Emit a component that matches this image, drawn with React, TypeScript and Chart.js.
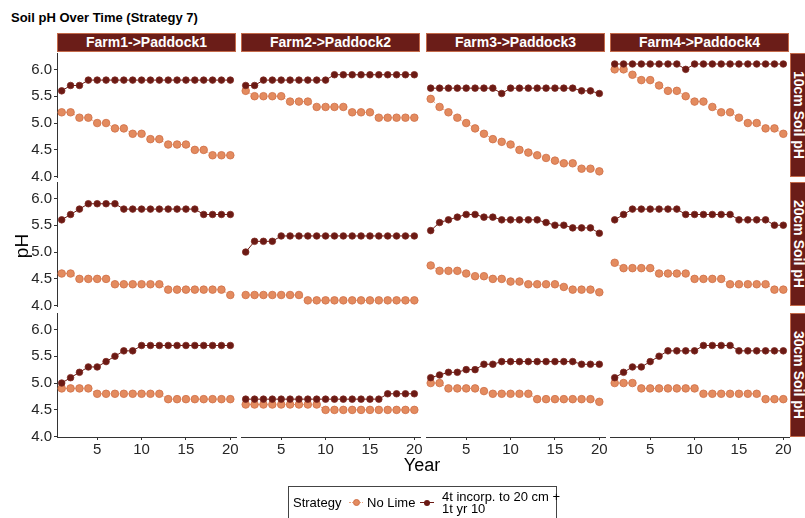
import React, { useEffect, useRef } from "react";
import { Chart, registerables } from "chart.js";
Chart.register(...registerables);

// ---------------- DATA ----------------
const years = [1, 2, 3, 4, 5, 6, 7, 8, 9, 10, 11, 12, 13, 14, 15, 16, 17, 18, 19, 20];
const farms = ["Farm1->Paddock1", "Farm2->Paddock2", "Farm3->Paddock3", "Farm4->Paddock4"];
const depths = ["10cm Soil pH", "20cm Soil pH", "30cm Soil pH"];
const yTickValues = [4.0, 4.5, 5.0, 5.5, 6.0];
const xTickValues = [5, 10, 15, 20];
const seriesNames = ["No Lime", "4t incorp. to 20 cm + 1t yr 10"];

// 10cm
const f1_10_noLime = [5.2, 5.2, 5.1, 5.1, 5.0, 5.0, 4.9, 4.9, 4.8, 4.8, 4.7, 4.7, 4.6, 4.6, 4.6, 4.5, 4.5, 4.4, 4.4, 4.4];
const f1_10_lime = [5.6, 5.7, 5.7, 5.8, 5.8, 5.8, 5.8, 5.8, 5.8, 5.8, 5.8, 5.8, 5.8, 5.8, 5.8, 5.8, 5.8, 5.8, 5.8, 5.8];
const f2_10_noLime = [5.6, 5.5, 5.5, 5.5, 5.5, 5.4, 5.4, 5.4, 5.3, 5.3, 5.3, 5.3, 5.2, 5.2, 5.2, 5.1, 5.1, 5.1, 5.1, 5.1];
const f2_10_lime = [5.7, 5.7, 5.8, 5.8, 5.8, 5.8, 5.8, 5.8, 5.8, 5.8, 5.9, 5.9, 5.9, 5.9, 5.9, 5.9, 5.9, 5.9, 5.9, 5.9];
const f3_10_noLime = [5.45, 5.3, 5.2, 5.1, 5.0, 4.9, 4.8, 4.7, 4.65, 4.6, 4.5, 4.45, 4.4, 4.35, 4.3, 4.25, 4.25, 4.15, 4.15, 4.1];
const f3_10_lime = [5.65, 5.65, 5.65, 5.65, 5.65, 5.65, 5.65, 5.65, 5.55, 5.65, 5.65, 5.65, 5.65, 5.65, 5.65, 5.65, 5.65, 5.6, 5.6, 5.55];
const f4_10_noLime = [6.0, 6.0, 5.9, 5.8, 5.8, 5.7, 5.6, 5.6, 5.5, 5.4, 5.4, 5.3, 5.2, 5.2, 5.1, 5.0, 5.0, 4.9, 4.9, 4.8];
const f4_10_lime = [6.1, 6.1, 6.1, 6.1, 6.1, 6.1, 6.1, 6.1, 6.0, 6.1, 6.1, 6.1, 6.1, 6.1, 6.1, 6.1, 6.1, 6.1, 6.1, 6.1];
// 20cm
const f1_20_noLime = [4.6, 4.6, 4.5, 4.5, 4.5, 4.5, 4.4, 4.4, 4.4, 4.4, 4.4, 4.4, 4.3, 4.3, 4.3, 4.3, 4.3, 4.3, 4.3, 4.2];
const f1_20_lime = [5.6, 5.7, 5.8, 5.9, 5.9, 5.9, 5.9, 5.8, 5.8, 5.8, 5.8, 5.8, 5.8, 5.8, 5.8, 5.8, 5.7, 5.7, 5.7, 5.7];
const f2_20_noLime = [4.2, 4.2, 4.2, 4.2, 4.2, 4.2, 4.2, 4.1, 4.1, 4.1, 4.1, 4.1, 4.1, 4.1, 4.1, 4.1, 4.1, 4.1, 4.1, 4.1];
const f2_20_lime = [5.0, 5.2, 5.2, 5.2, 5.3, 5.3, 5.3, 5.3, 5.3, 5.3, 5.3, 5.3, 5.3, 5.3, 5.3, 5.3, 5.3, 5.3, 5.3, 5.3];
const f3_20_noLime = [4.75, 4.65, 4.65, 4.65, 4.6, 4.55, 4.55, 4.5, 4.5, 4.45, 4.45, 4.4, 4.4, 4.4, 4.4, 4.35, 4.3, 4.3, 4.3, 4.25];
const f3_20_lime = [5.4, 5.55, 5.6, 5.65, 5.7, 5.7, 5.65, 5.65, 5.6, 5.6, 5.6, 5.6, 5.6, 5.55, 5.5, 5.5, 5.45, 5.45, 5.45, 5.35];
const f4_20_noLime = [4.8, 4.7, 4.7, 4.7, 4.7, 4.6, 4.6, 4.6, 4.6, 4.5, 4.5, 4.5, 4.5, 4.4, 4.4, 4.4, 4.4, 4.4, 4.3, 4.3];
const f4_20_lime = [5.6, 5.7, 5.8, 5.8, 5.8, 5.8, 5.8, 5.8, 5.7, 5.7, 5.7, 5.7, 5.7, 5.7, 5.6, 5.6, 5.6, 5.6, 5.5, 5.5];
// 30cm
const f1_30_noLime = [4.9, 4.9, 4.9, 4.9, 4.8, 4.8, 4.8, 4.8, 4.8, 4.8, 4.8, 4.8, 4.7, 4.7, 4.7, 4.7, 4.7, 4.7, 4.7, 4.7];
const f1_30_lime = [5.0, 5.1, 5.2, 5.3, 5.3, 5.4, 5.5, 5.6, 5.6, 5.7, 5.7, 5.7, 5.7, 5.7, 5.7, 5.7, 5.7, 5.7, 5.7, 5.7];
const f2_30_noLime = [4.6, 4.6, 4.6, 4.6, 4.6, 4.6, 4.6, 4.6, 4.6, 4.5, 4.5, 4.5, 4.5, 4.5, 4.5, 4.5, 4.5, 4.5, 4.5, 4.5];
const f2_30_lime = [4.7, 4.7, 4.7, 4.7, 4.7, 4.7, 4.7, 4.7, 4.7, 4.7, 4.7, 4.7, 4.7, 4.7, 4.7, 4.7, 4.8, 4.8, 4.8, 4.8];
const f3_30_noLime = [5.0, 5.0, 4.9, 4.9, 4.9, 4.9, 4.85, 4.8, 4.8, 4.8, 4.8, 4.8, 4.7, 4.7, 4.7, 4.7, 4.7, 4.7, 4.7, 4.65];
const f3_30_lime = [5.1, 5.15, 5.2, 5.2, 5.25, 5.25, 5.35, 5.35, 5.4, 5.4, 5.4, 5.4, 5.4, 5.4, 5.4, 5.4, 5.4, 5.35, 5.35, 5.35];
const f4_30_noLime = [5.0, 5.0, 5.0, 4.9, 4.9, 4.9, 4.9, 4.9, 4.9, 4.9, 4.8, 4.8, 4.8, 4.8, 4.8, 4.8, 4.8, 4.7, 4.7, 4.7];
const f4_30_lime = [5.1, 5.2, 5.3, 5.3, 5.4, 5.5, 5.6, 5.6, 5.6, 5.6, 5.7, 5.7, 5.7, 5.7, 5.6, 5.6, 5.6, 5.6, 5.6, 5.6];

const panelData: [number[], number[]][][] = [
  [[f1_10_noLime, f1_10_lime], [f2_10_noLime, f2_10_lime], [f3_10_noLime, f3_10_lime], [f4_10_noLime, f4_10_lime]],
  [[f1_20_noLime, f1_20_lime], [f2_20_noLime, f2_20_lime], [f3_20_noLime, f3_20_lime], [f4_20_noLime, f4_20_lime]],
  [[f1_30_noLime, f1_30_lime], [f2_30_noLime, f2_30_lime], [f3_30_noLime, f3_30_lime], [f4_30_noLime, f4_30_lime]],
];

// ---------------- STYLE / LAYOUT ----------------
const FONT = "'Liberation Sans', Arial, Helvetica, sans-serif";
const STRIP_BG = "#6B1D18";
const STRIP_BORDER = "#C46A4A";
const NOLIME_FILL = "#E38B5F";
const NOLIME_EDGE = "#CF6F46";
const NOLIME_LINE = "#E9A582";
const LIME_FILL = "#6B1A14";
const LIME_EDGE = "#7E2A22";
const AXIS_COL = "#333333";
const TICK_TXT = "#262626";

const colLeft = [57, 241, 426, 610];
const colW = 179;
const rowTop = [53, 182, 313];
const rowH = 124;
const X_MIN = 0.47;
const X_MAX = 20.64;
const Y_MIN = 3.995;
const Y_MAX = 6.305;
const YAX_W = 50;
const XAX_H = 28;
const PAD = 14;

function Panel({ r, c }: { r: number; c: number }) {
  const ref = useRef<HTMLCanvasElement>(null);
  const showY = c === 0;
  const showX = r === 2;
  const padL = showY ? YAX_W : 8;
  const padR = 8;
  const padT = PAD;
  const padB = showX ? XAX_H : PAD;
  const w = colW + padL + padR;
  const h = rowH + padT + padB;
  useEffect(() => {
    if (!ref.current) return;
    const [noLime, lime] = panelData[r][c];
    const chart = new Chart(ref.current, {
      type: "line",
      data: {
        datasets: [
          {
            label: seriesNames[1],
            data: years.map((x, i) => ({ x, y: lime[i] })),
            borderColor: LIME_FILL,
            borderWidth: 1,
            pointRadius: 3.3,
            pointBackgroundColor: LIME_FILL,
            pointBorderColor: LIME_EDGE,
            pointBorderWidth: 0.8,
            clip: false as any,
          },
          {
            label: seriesNames[0],
            data: years.map((x, i) => ({ x, y: noLime[i] })),
            borderColor: NOLIME_LINE,
            borderWidth: 1,
            borderDash: [2, 2],
            pointRadius: 3.8,
            pointBackgroundColor: NOLIME_FILL,
            pointBorderColor: NOLIME_EDGE,
            pointBorderWidth: 0.8,
            clip: false as any,
          },
        ],
      },
      options: {
        animation: false,
        responsive: false,
        events: [],
        layout: {
          padding: { left: showY ? 0 : 8, right: padR, top: padT, bottom: showX ? 0 : PAD },
        },
        plugins: { legend: { display: false }, tooltip: { enabled: false }, title: { display: false } },
        scales: {
          x: {
            type: "linear",
            min: X_MIN,
            max: X_MAX,
            display: showX,
            afterFit: (s: any) => {
              if (showX) s.height = XAX_H;
            },
            afterBuildTicks: (s: any) => {
              s.ticks = xTickValues.map((v) => ({ value: v }));
            },
            border: { display: true, color: AXIS_COL, width: 1 },
            grid: { drawOnChartArea: false, drawTicks: true, tickLength: 3, color: AXIS_COL },
            ticks: {
              padding: 1,
              maxRotation: 0,
              autoSkip: false,
              color: TICK_TXT,
              font: { family: FONT, size: 15 },
              callback: (v: any) => String(v),
            },
          },
          y: {
            type: "linear",
            min: Y_MIN,
            max: Y_MAX,
            display: showY,
            afterFit: (s: any) => {
              if (showY) s.width = YAX_W;
            },
            afterBuildTicks: (s: any) => {
              s.ticks = yTickValues.map((v) => ({ value: v }));
            },
            border: { display: true, color: AXIS_COL, width: 1 },
            grid: { drawOnChartArea: false, drawTicks: true, tickLength: 3, color: AXIS_COL },
            ticks: {
              padding: 2,
              autoSkip: false,
              color: TICK_TXT,
              font: { family: FONT, size: 15 },
              callback: (v: any) => Number(v).toFixed(1),
            },
          },
        },
      },
    });
    return () => chart.destroy();
  }, [r, c]);
  return (
    <canvas
      ref={ref}
      width={w}
      height={h}
      style={{ position: "absolute", left: colLeft[c] - padL, top: rowTop[r] - padT, width: w, height: h }}
    />
  );
}

const abs = (s: React.CSSProperties): React.CSSProperties => ({ position: "absolute", ...s });

export default function App() {
  const panels: JSX.Element[] = [];
  for (let r = 0; r < 3; r++) for (let c = 0; c < 4; c++) panels.push(<Panel key={`${r}-${c}`} r={r} c={c} />);
  return (
    <div
      style={abs({
        left: 0,
        top: 0,
        width: 805,
        height: 518,
        overflow: "hidden",
        background: "#ffffff",
        fontFamily: FONT,
      })}
    >
      <div style={abs({ left: 11, top: 10, fontSize: 13, fontWeight: "bold", lineHeight: "16px", color: "#000", whiteSpace: "nowrap" })}>
        Soil pH Over Time (Strategy 7)
      </div>
      {farms.map((f, c) => (
        <div
          key={f}
          style={abs({
            left: colLeft[c],
            top: 33,
            width: colW,
            height: 19,
            boxSizing: "border-box",
            background: STRIP_BG,
            border: `1px solid ${STRIP_BORDER}`,
            color: "#fff",
            fontWeight: "bold",
            fontSize: 14,
            lineHeight: "17px",
            textAlign: "center",
            whiteSpace: "nowrap",
          })}
        >
          {f}
        </div>
      ))}
      {depths.map((d, r) => (
        <div
          key={d}
          style={abs({
            left: 790,
            top: rowTop[r],
            width: 18,
            height: rowH,
            boxSizing: "border-box",
            background: STRIP_BG,
            border: `1px solid ${STRIP_BORDER}`,
            color: "#fff",
            fontWeight: "bold",
            fontSize: 14,
            display: "flex",
            alignItems: "center",
            justifyContent: "center",
          })}
        >
          <span style={{ writingMode: "vertical-rl", whiteSpace: "nowrap", lineHeight: "16px" }}>{d}</span>
        </div>
      ))}
      {panels}
      <div
        style={abs({
          left: 22 - 20,
          top: 246 - 12,
          width: 40,
          height: 24,
          fontSize: 19,
          lineHeight: "24px",
          textAlign: "center",
          color: "#000",
          transform: "rotate(-90deg)",
        })}
      >
        pH
      </div>
      <div style={abs({ left: 372, top: 454, width: 100, fontSize: 18, lineHeight: "22px", textAlign: "center", color: "#000" })}>
        Year
      </div>
      {/* legend */}
      <div style={abs({ left: 288, top: 486, width: 269, height: 40, boxSizing: "border-box", border: "1px solid #444", background: "#fff" })} />
      <div style={abs({ left: 293, top: 495, fontSize: 13, lineHeight: "16px", color: "#000" })}>Strategy</div>
      <div style={abs({ left: 349, top: 502, width: 14, height: 0, borderTop: `1px dotted ${NOLIME_LINE}` })} />
      <div
        style={abs({
          left: 356 - 3.5,
          top: 502.5 - 3.5,
          width: 7,
          height: 7,
          borderRadius: "50%",
          background: NOLIME_FILL,
          boxSizing: "border-box",
          border: `0.8px solid ${NOLIME_EDGE}`,
        })}
      />
      <div style={abs({ left: 367, top: 495, fontSize: 13, lineHeight: "16px", color: "#000" })}>{seriesNames[0]}</div>
      <div style={abs({ left: 420, top: 502, width: 14, height: 0, borderTop: `1px solid ${LIME_FILL}` })} />
      <div
        style={abs({
          left: 427 - 3,
          top: 502.5 - 3,
          width: 6,
          height: 6,
          borderRadius: "50%",
          background: LIME_FILL,
        })}
      />
      <div style={abs({ left: 442, top: 491, fontSize: 13, lineHeight: "12px", color: "#000", whiteSpace: "nowrap" })}>
        4t incorp. to 20 cm +
        <br />
        1t yr 10
      </div>
    </div>
  );
}
